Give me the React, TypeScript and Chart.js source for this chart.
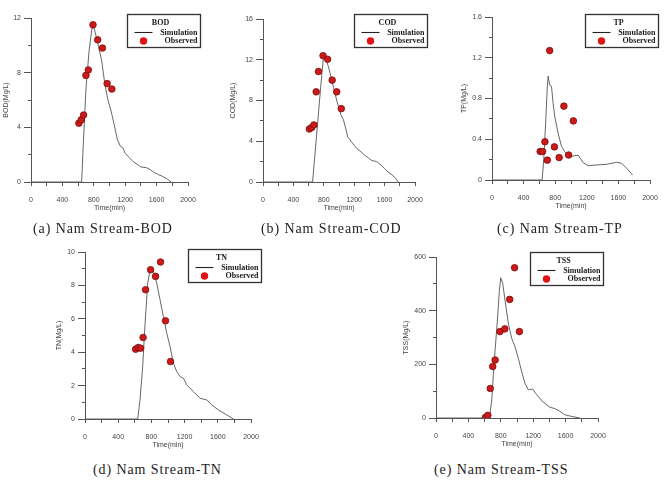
import React, { useEffect, useRef } from 'react';
import { Chart, registerables } from 'chart.js';

Chart.register(...registerables);

// ---- data ----
const obsTime = [610, 640, 670, 700, 730, 790, 850, 910, 970, 1030];

const bodObs = [4.3, 4.55, 4.9, 7.8, 8.2, 11.5, 10.4, 9.8, 7.2, 6.8];
const codObs = [5.2, 5.35, 5.6, 8.85, 10.85, 12.4, 12.05, 10.0, 8.85, 7.2];
const tpObs = [0.28, 0.28, 0.375, 0.195, 1.27, 0.325, 0.22, 0.725, 0.245, 0.58];
const tnObs = [4.18, 4.28, 4.24, 4.88, 7.74, 8.94, 8.54, 9.4, 5.88, 3.44];
const tssObs = [2, 10, 110, 192, 216, 322, 332, 442, 560, 322];

const bodSimTime = [0, 645, 665, 700, 740, 785, 820, 860, 900, 940, 980, 1020, 1060, 1100, 1140, 1170, 1200, 1250, 1300, 1350, 1400, 1470, 1520, 1570, 1620, 1680, 1740, 1785];
const bodSim = [0, 0, 2.6, 6.8, 9.6, 11.6, 10.9, 9.9, 8.9, 7.2, 6.0, 5.2, 4.2, 3.1, 2.6, 2.5, 2.1, 1.8, 1.5, 1.3, 1.1, 1.05, 0.9, 0.7, 0.55, 0.4, 0.2, 0];

const codSimTime = [0, 652, 680, 720, 760, 797, 830, 862, 895, 928, 960, 993, 1025, 1059, 1090, 1116, 1140, 1168, 1200, 1234, 1290, 1343, 1390, 1431, 1470, 1497, 1530, 1562, 1595, 1628, 1670, 1715, 1750, 1781];
const codSim = [0, 0, 2.4, 5.9, 9.4, 12.4, 12.0, 11.3, 10.3, 9.3, 8.3, 7.4, 6.6, 6.1, 5.2, 4.4, 4.2, 3.9, 3.6, 3.3, 2.95, 2.6, 2.35, 2.1, 2.05, 2.0, 1.8, 1.6, 1.35, 1.1, 0.85, 0.6, 0.3, 0];

const tpSimTime = [0, 634, 655, 681, 698, 710, 731, 753, 774, 795, 837, 879, 943, 1006, 1049, 1091, 1154, 1218, 1323, 1450, 1577, 1641, 1704, 1780];
const tpSim = [0, 0, 0.2, 0.59, 0.885, 1.02, 0.93, 0.92, 0.75, 0.62, 0.46, 0.33, 0.25, 0.23, 0.24, 0.243, 0.17, 0.14, 0.148, 0.154, 0.174, 0.164, 0.115, 0.05];

const tnSimTime = [0, 635, 663, 695, 724, 756, 784, 824, 864, 904, 944, 985, 1025, 1065, 1105, 1146, 1186, 1226, 1307, 1387, 1467, 1528, 1608, 1709, 1789];
const tnSim = [0, 0, 1.14, 3.14, 5.74, 8.14, 8.94, 8.84, 8.14, 7.14, 6.14, 5.14, 4.34, 3.34, 2.84, 2.54, 2.44, 2.04, 1.64, 1.24, 1.14, 0.84, 0.54, 0.24, 0];

const tssSimTime = [0, 627, 668, 689, 709, 730, 758, 783, 799, 824, 852, 893, 934, 975, 1016, 1057, 1098, 1139, 1193, 1242, 1324, 1406, 1467, 1529, 1590, 1672, 1775];
const tssSim = [0, 0, 19, 68, 167, 254, 365, 476, 523, 501, 439, 353, 297, 266, 223, 173, 130, 105, 108, 87, 59, 40, 35, 25, 12, 6, 0];

const timeMin = 0;
const timeMax = 2000;
const timeStep = 200;
const timeLabelStep = 400;

// ---- styles ----
const LINE = '#666666';
const AXIS = '#555555';
const RED = '#cc1a1a';
const DARKRED = '#7a0c0c';
const TXT = '#444444';
const SANS = '"Liberation Sans", Arial, sans-serif';
const SERIF = '"Liberation Serif", "DejaVu Serif", serif';

type PanelCfg = {
  name: string;
  caption: string;
  yTitle: string;
  simT: number[];
  sim: number[];
  obs: number[];
  yMax: number;
  yMajor: number;
  yMinor: number;
  left: number;
  top: number;
  w: number;
  h: number;
  yTitleOff: number;
  legDx: number;
  legDy: number;
  capLeft: number;
  capTop: number;
};

const panels: PanelCfg[] = [
  { name: 'BOD', caption: '(a) Nam Stream-BOD', yTitle: 'BOD(Mg/L)', simT: bodSimTime, sim: bodSim, obs: bodObs, yMax: 12, yMajor: 4, yMinor: 2, left: 31, top: 18, w: 157, h: 164, yTitleOff: 25, legDx: 12, legDy: -4, capLeft: 33, capTop: 221 },
  { name: 'COD', caption: '(b) Nam Stream-COD', yTitle: 'COD(Mg/L)', simT: codSimTime, sim: codSim, obs: codObs, yMax: 16, yMajor: 4, yMinor: 2, left: 263, top: 19, w: 152, h: 163, yTitleOff: 30, legDx: 12, legDy: -5, capLeft: 261, capTop: 221 },
  { name: 'TP', caption: '(c) Nam Stream-TP', yTitle: 'TP(Mg/L)', simT: tpSimTime, sim: tpSim, obs: tpObs, yMax: 1.6, yMajor: 0.4, yMinor: 0.2, left: 492, top: 17, w: 158, h: 163, yTitleOff: 28, legDx: 8, legDy: -3, capLeft: 497, capTop: 221 },
  { name: 'TN', caption: '(d) Nam Stream-TN', yTitle: 'TN(Mg/L)', simT: tnSimTime, sim: tnSim, obs: tnObs, yMax: 10, yMajor: 2, yMinor: 1, left: 85, top: 252, w: 166, h: 167, yTitleOff: 26, legDx: 10, legDy: -3, capLeft: 93, capTop: 462 },
  { name: 'TSS', caption: '(e) Nam Stream-TSS', yTitle: 'TSS(Mg/L)', simT: tssSimTime, sim: tssSim, obs: tssObs, yMax: 600, yMajor: 200, yMinor: 100, left: 436, top: 257, w: 162, h: 161, yTitleOff: 30, legDx: 5, legDy: -5, capLeft: 434, capTop: 462 },
];

const PAD_L = 36;
const PAD_T = 20;
const PAD_R = 20;
const PAD_B = 34;

const boxLegend = {
  id: 'boxLegend',
  afterDraw(chart: any, _args: any, opts: any) {
    const { ctx, chartArea } = chart;
    const w = 73;
    const h = 33;
    const L = Math.round(chartArea.right + opts.dx - w) + 0.5;
    const T = Math.round(chartArea.top + opts.dy) + 0.5;
    const ds = chart.data.datasets;
    ctx.save();
    ctx.fillStyle = '#ffffff';
    ctx.fillRect(L, T, w, h);
    ctx.strokeStyle = '#333333';
    ctx.lineWidth = 1.3;
    ctx.strokeRect(L, T, w, h);
    ctx.font = 'bold 8px ' + SERIF;
    ctx.fillStyle = '#1a1a1a';
    ctx.textBaseline = 'middle';
    ctx.textAlign = 'center';
    ctx.fillText(opts.title, L + 33, T + 8.5);
    ctx.strokeStyle = '#222222';
    ctx.lineWidth = 1.1;
    ctx.beginPath();
    ctx.moveTo(L + 7, T + 18);
    ctx.lineTo(L + 25, T + 18);
    ctx.stroke();
    ctx.textAlign = 'right';
    ctx.fillText(ds[0].label, L + w - 3, T + 18);
    ctx.fillStyle = '#e01414';
    ctx.beginPath();
    ctx.arc(L + 16, T + 26.5, 3.7, 0, Math.PI * 2);
    ctx.fill();
    ctx.fillStyle = '#1a1a1a';
    ctx.fillText(ds[1].label, L + w - 3, T + 26.5);
    ctx.restore();
  },
};

function fmt(v: number) {
  return String(Math.round(v * 1000) / 1000);
}

function Panel({ p }: { p: PanelCfg }) {
  const ref = useRef<HTMLCanvasElement>(null);
  const cw = PAD_L + p.w + PAD_R;
  const ch = PAD_T + p.h + PAD_B;
  useEffect(() => {
    const tickFont = { family: SANS, size: 7 };
    const chart = new Chart(ref.current as HTMLCanvasElement, {
      type: 'scatter',
      data: {
        datasets: [
          {
            label: 'Simulation',
            data: p.simT.map((t, i) => ({ x: t, y: p.sim[i] })),
            showLine: true,
            borderColor: LINE,
            borderWidth: 1,
            pointRadius: 0,
            xAxisID: 'x',
            yAxisID: 'y',
            order: 2,
          },
          {
            label: 'Observed',
            data: obsTime.map((t, i) => ({ x: t, y: p.obs[i] })),
            showLine: false,
            pointRadius: 3.3,
            pointBackgroundColor: RED,
            pointBorderColor: DARKRED,
            pointBorderWidth: 0.8,
            xAxisID: 'x',
            yAxisID: 'y',
            order: 1,
          },
        ],
      } as any,
      options: {
        animation: false,
        responsive: false,
        maintainAspectRatio: false,
        layout: { padding: { left: 0, top: PAD_T, right: PAD_R, bottom: 0 } },
        plugins: {
          legend: { display: false },
          tooltip: { enabled: false },
          boxLegend: { title: p.name, dx: p.legDx, dy: p.legDy },
        } as any,
        scales: {
          x: {
            type: 'linear',
            position: 'bottom',
            min: timeMin,
            max: timeMax,
            afterFit: (s: any) => { s.height = PAD_B; },
            ticks: {
              stepSize: timeStep,
              autoSkip: false,
              maxRotation: 0,
              callback: (v: any) => (Number(v) % timeLabelStep === 0 ? String(v) : ''),
              font: tickFont,
              color: TXT,
              padding: 9.5,
            },
            grid: { drawOnChartArea: false, drawTicks: true, tickLength: 4, color: AXIS },
            border: { color: AXIS, width: 1 },
            title: { display: true, text: 'Time(min)', font: tickFont, color: TXT, padding: { top: 0, bottom: 3.8 } },
          },
          y: {
            type: 'linear',
            position: 'left',
            weight: 1,
            min: 0,
            max: p.yMax,
            afterFit: (s: any) => { s.width = PAD_L; },
            ticks: {
              stepSize: p.yMajor,
              callback: (v: any) => fmt(Number(v)),
              font: tickFont,
              color: TXT,
              padding: 3,
            },
            grid: { drawOnChartArea: false, drawTicks: true, tickLength: 7, color: AXIS },
            border: { color: AXIS, width: 1 },
            title: { display: true, text: p.yTitle, font: tickFont, color: TXT, padding: { top: PAD_L - p.yTitleOff - 4.2, bottom: 0 } },
          },
          ym: {
            type: 'linear',
            position: 'left',
            weight: 0,
            min: 0,
            max: p.yMax,
            afterFit: (s: any) => { s.width = 0; },
            ticks: { display: false, stepSize: p.yMinor },
            grid: { drawOnChartArea: false, drawTicks: true, tickLength: 3, color: AXIS },
            border: { color: AXIS, width: 1 },
          },
        } as any,
      },
      plugins: [boxLegend],
    });
    return () => chart.destroy();
  }, []);
  return (
    <canvas
      ref={ref}
      width={cw}
      height={ch}
      style={{ position: 'absolute', left: p.left - PAD_L, top: p.top - PAD_T, width: cw, height: ch }}
    />
  );
}

export default function App() {
  return (
    <div style={{ position: 'absolute', left: 0, top: 0, width: 664, height: 488, background: '#ffffff', overflow: 'hidden' }}>
      {panels.map((p) => (
        <Panel key={p.name} p={p} />
      ))}
      {panels.map((p) => (
        <div
          key={p.name + '-cap'}
          style={{
            position: 'absolute',
            left: p.capLeft,
            top: p.capTop,
            fontFamily: SERIF,
            fontSize: 14,
            lineHeight: '16px',
            letterSpacing: '0.9px',
            color: '#222',
            whiteSpace: 'nowrap',
            zIndex: 2,
          }}
        >
          {p.caption}
        </div>
      ))}
    </div>
  );
}
